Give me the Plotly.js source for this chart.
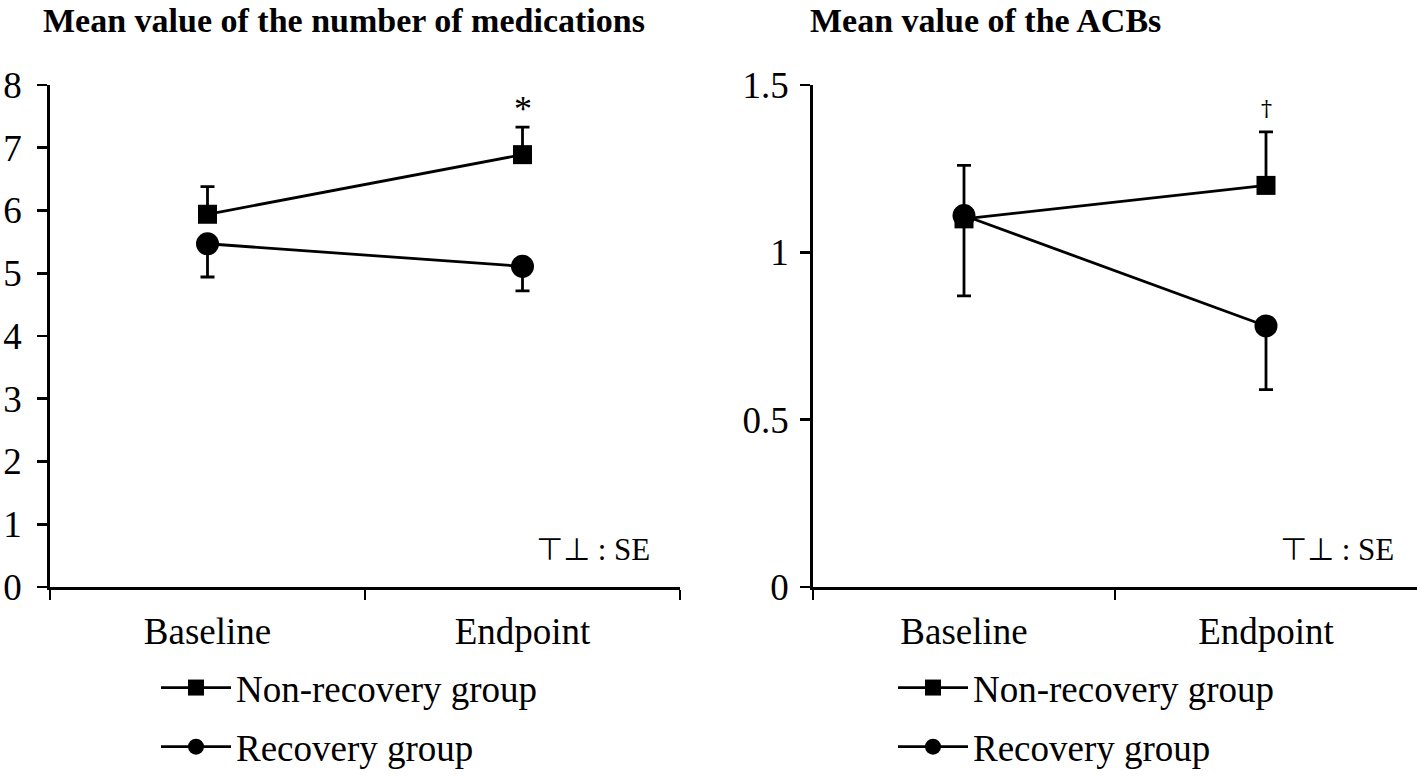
<!DOCTYPE html>
<html><head><meta charset="utf-8">
<script src="https://cdn.plot.ly/plotly-3.0.1.min.js"></script>
<style>html,body{margin:0;padding:0;background:#fff}#chart{width:1419px;height:778px}</style>
</head><body><div id="chart"></div>
<script>
const categories = ['Baseline', 'Endpoint'];
const groupNames = ['Non-recovery group', 'Recovery group'];
// Mean number of medications
const medNonRecovery = [5.94, 6.89];
const medNonRecoverySE = [0.44, 0.44];
const medRecovery = [5.47, 5.11];
const medRecoverySE = [0.53, 0.39];
// Mean ACB score
const acbNonRecovery = [1.10, 1.20];
const acbNonRecoverySE = [0.16, 0.16];
const acbRecovery = [1.11, 0.78];
const acbRecoverySE = [0.24, 0.19];
const medTicks = [0, 1, 2, 3, 4, 5, 6, 7, 8];
const acbTicks = [0, 0.5, 1, 1.5];
const acbTickText = ['0', '0.5', '1', '1.5'];

const serif = 'Liberation Serif, Times New Roman, serif';
const lineStyle = {color: '#000', width: 2.8};

function series(y, se, upper, name, symbol, size, xa, ya, legend) {
  return {
    type: 'scatter', mode: 'lines+markers', x: categories, y: y, name: name,
    xaxis: xa, yaxis: ya, legend: legend, legendgroup: legend + name,
    line: lineStyle,
    marker: {symbol: symbol, size: size, color: '#000'},
    error_y: upper
      ? {type: 'data', symmetric: false, array: se, arrayminus: se.map(() => 0), color: '#000', thickness: 2.8, width: 7}
      : {type: 'data', symmetric: false, array: se.map(() => 0), arrayminus: se, color: '#000', thickness: 2.8, width: 7},
    cliponaxis: false
  };
}

const data = [
  series(medNonRecovery, medNonRecoverySE, true, groupNames[0], 'square', 19, 'x', 'y', 'legend'),
  series(medRecovery, medRecoverySE, false, groupNames[1], 'circle', 23, 'x', 'y', 'legend'),
  series(acbNonRecovery, acbNonRecoverySE, true, groupNames[0], 'square', 19, 'x2', 'y2', 'legend2'),
  series(acbRecovery, acbRecoverySE, false, groupNames[1], 'circle', 23, 'x2', 'y2', 'legend2')
];

const W = 1419, H = 778;
const yDom = [1 - 587 / H, 1 - 85 / H];
const xAxisBase = {
  type: 'category', tickson: 'boundaries', ticks: 'outside', ticklen: 10, tickwidth: 2.8, tickcolor: '#000',
  showline: true, linecolor: '#000', linewidth: 2.8, showgrid: false, zeroline: false,
  range: [-0.5, 1.5], tickfont: {family: serif, size: 37, color: '#000'}, ticklabelstandoff: 10
};
const yAxisBase = {
  ticks: 'outside', ticklen: 10, tickwidth: 2.8, tickcolor: '#000',
  showline: true, linecolor: '#000', linewidth: 2.8, showgrid: false, zeroline: false,
  tickfont: {family: serif, size: 37, color: '#000'}
};
const legendBase = {
  font: {family: serif, size: 37, color: '#000'}, bgcolor: 'rgba(0,0,0,0)',
  orientation: 'v', xanchor: 'left', yanchor: 'bottom', y: 0, tracegroupgap: 8, itemwidth: 70
};

const layout = {
  width: W, height: H, margin: {l: 0, r: 0, t: 0, b: 0},
  paper_bgcolor: '#fff', plot_bgcolor: '#fff',
  showlegend: true,
  xaxis: Object.assign({}, xAxisBase, {domain: [50 / W, 680 / W], anchor: 'y'}),
  yaxis: Object.assign({}, yAxisBase, {domain: yDom, anchor: 'x', range: [0, 8], tickvals: medTicks, ticklabelstandoff: 8}),
  xaxis2: Object.assign({}, xAxisBase, {domain: [813 / W, 1417 / W], anchor: 'y2'}),
  yaxis2: Object.assign({}, yAxisBase, {domain: yDom, anchor: 'x2', range: [0, 1.5], tickvals: acbTicks, ticktext: acbTickText, ticklabelstandoff: 4}),
  legend: Object.assign({}, legendBase, {x: 156 / W}),
  legend2: Object.assign({}, legendBase, {x: 893 / W}),
  annotations: [
    {xref: 'paper', yref: 'paper', x: 41 / W, y: 1, xanchor: 'left', yanchor: 'top', showarrow: false,
     text: '<b>Mean value of the number of medications</b>', font: {family: serif, size: 34, color: '#000'}},
    {xref: 'paper', yref: 'paper', x: 808 / W, y: 1, xanchor: 'left', yanchor: 'top', showarrow: false,
     text: '<b>Mean value of the ACBs</b>', font: {family: serif, size: 34, color: '#000'}},
    {xref: 'x', yref: 'y', x: categories[1], y: 7.62, showarrow: false, text: '*', font: {family: serif, size: 36, color: '#000'}},
    {xref: 'x2', yref: 'y2', x: categories[1], y: 1.43, showarrow: false, text: '&#8224;', font: {family: 'DejaVu Serif, serif', size: 22, color: '#000000'}},
    {xref: 'x domain', yref: 'y domain', x: 0.955, y: 0.075, xanchor: 'right', yanchor: 'middle', showarrow: false,
     text: '⊤⊥ : SE', font: {family: serif + ', DejaVu Sans', size: 31, color: '#000'}},
    {xref: 'x2 domain', yref: 'y2 domain', x: 0.965, y: 0.075, xanchor: 'right', yanchor: 'middle', showarrow: false,
     text: '⊤⊥ : SE', font: {family: serif + ', DejaVu Sans', size: 31, color: '#000'}}
  ]
};

Plotly.newPlot('chart', data, layout, {displayModeBar: false, staticPlot: true});
</script>
</body></html>
